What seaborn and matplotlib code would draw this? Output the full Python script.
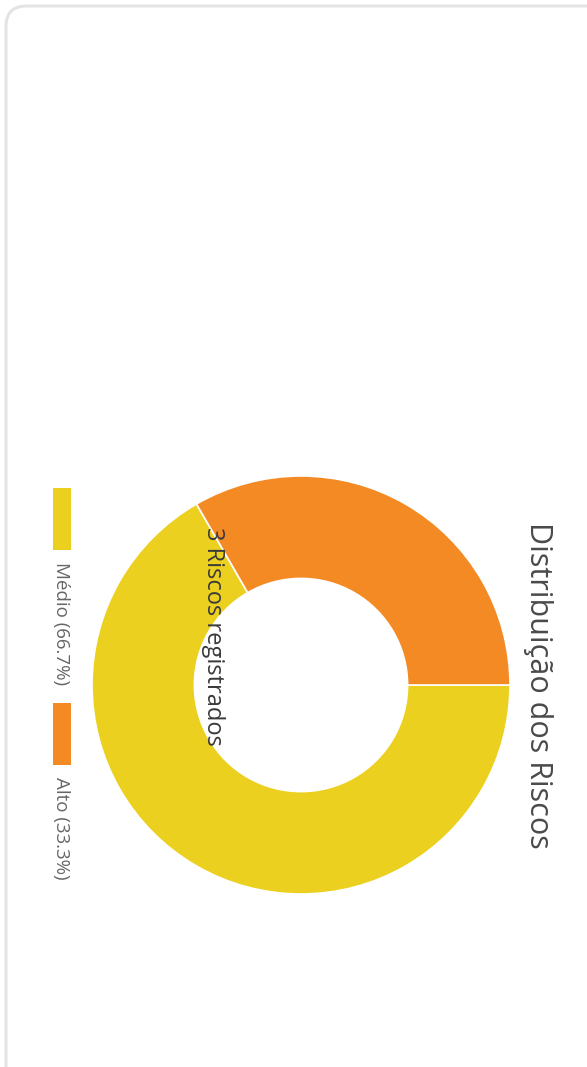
import numpy as np
import pandas as pd
import seaborn as sns
import matplotlib.pyplot as plt
from matplotlib.patches import FancyBboxPatch, Rectangle

# Data read from the (rotated) donut chart
categorias = ["Médio", "Alto"]
contagens = [2, 1]
cores = ["#ecd01f", "#f38a24"]
titulo = "Distribuição dos Riscos"
texto_total = "3 Riscos registrados"

df = pd.DataFrame({"nivel": categorias, "n": contagens})
df["pct"] = df["n"] / df["n"].sum() * 100

sns.set_theme(style="white")
plt.rcParams["font.family"] = ["Open Sans", "DejaVu Sans"]

W, H = 587, 1067
fig = plt.figure(figsize=(W / 100, H / 100), dpi=100)
fig.patch.set_facecolor("white")

# card border (extends beyond right and bottom edge)
card = FancyBboxPatch((6 / W, -20 / H), 640 / W, (H - 6 + 20) / H,
                      boxstyle="round,pad=0,rounding_size=0.035",
                      transform=fig.transFigure, facecolor="none",
                      edgecolor="#e4e4e4", linewidth=2.2, mutation_aspect=W / H,
                      zorder=-1)
fig.patches.append(card)

# donut
cx, cy, r = 301, 685, 209
ax = fig.add_axes([(cx - r) / W, (H - cy - r) / H, 2 * r / W, 2 * r / H])
ax.pie(df["n"], colors=cores, startangle=120, counterclock=True, radius=1,
       wedgeprops=dict(width=0.49, edgecolor="white", linewidth=1.2))
ax.set_xlim(-1, 1)
ax.set_ylim(-1, 1)
ax.set_aspect("equal")
ax.axis("off")

# title and center text (rotated chart)
fig.text(538 / W, 1 - 685 / H, titulo, rotation=270, ha="center", va="center",
         fontsize=22, color="#4a4a4a")
fig.text(213 / W, 1 - 636 / H, texto_total, rotation=270, ha="center", va="center",
         fontsize=17, color="#3a3a3a", zorder=5)

# legend
leg_y = [488, 703]
for (nivel, pct), cor, y0 in zip(df[["nivel", "pct"]].values, cores, leg_y):
    fig.patches.append(Rectangle((53 / W, 1 - (y0 + 62) / H), 18 / W, 62 / H,
                                 transform=fig.transFigure, facecolor=cor,
                                 edgecolor="none"))
    fig.text(61 / W, 1 - (y0 + 74) / H, f"{nivel} ({pct:.1f}%)", rotation=270,
             ha="center", va="top", fontsize=13.5, color="#666666")

fig.savefig("out.png", dpi=100)
